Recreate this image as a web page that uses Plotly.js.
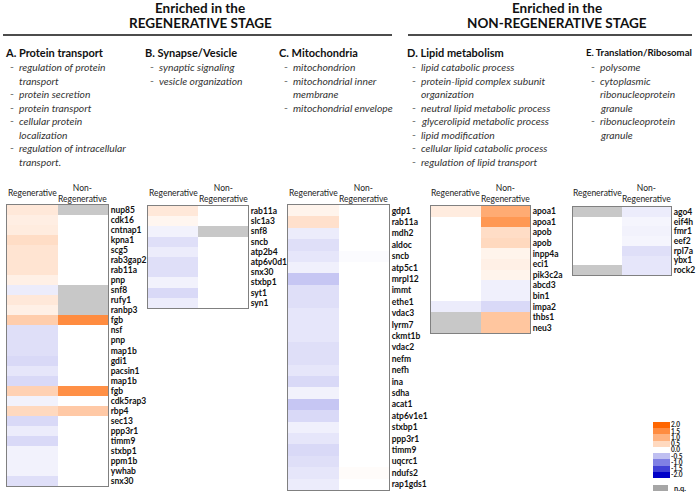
<!DOCTYPE html>
<html><head><meta charset="utf-8">
<script src="https://cdn.plot.ly/plotly-3.0.1.min.js"></script>
<style>html,body{margin:0;padding:0;background:#fff}</style>
</head><body><div id="chart" style="width:696px;height:496px"></div>
<script>
// ---------- data (null = n.q.) ----------
const colLabels = ['Regenerative', 'Non-<br>Regenerative'];

const genesA = ['nup85','cdk16','cntnap1','kpna1','scg5','rab3gap2','rab11a','pnp','snf8','rufy1','ranbp3','fgb','nsf','pnp','map1b','gdi1','pacsin1','map1b','fgb','cdk5rap3','rbp4','sec13','ppp3r1','timm9','stxbp1','ppm1b','ywhab','snx30'];
const regA = [0.3,0.22,0.25,0.45,0.35,0.35,0.35,0.2,-0.15,0.3,0.2,0.65,-0.25,-0.25,-0.25,-0.3,-0.2,-0.3,0.6,-0.1,0.5,-0.3,-0.15,-0.3,-0.1,-0.1,-0.1,-0.25];
const nonA = [null,0,0,0,0,0,0,0,null,null,null,1.5,0,0,0,0,0,0,1.45,0,0.7,0,0,0,0,0,0,0];

const genesB = ['rab11a','slc1a3','snf8','sncb','atp2b4','atp6v0d1','snx30','stxbp1','syt1','syn1'];
const regB = [0.3,0.12,-0.1,-0.25,-0.15,-0.25,-0.25,-0.1,-0.3,-0.15];
const nonB = [0,0,null,0,0,0,0,0,0,0];

const genesC = ['gdp1','rab11a','mdh2','aldoc','sncb','atp5c1','mrpl12','immt','ethe1','vdac3','lyrm7','ckmt1b','vdac2','nefm','nefh','ina','sdha','acat1','atp6v1e1','stxbp1','ppp3r1','timm9','uqcrc1','ndufs2','rap1gds1'];
const regC = [0.15,0.4,-0.15,-0.25,-0.2,-0.12,-0.45,-0.25,-0.25,-0.2,-0.2,-0.2,-0.25,-0.25,-0.2,-0.3,-0.1,-0.45,-0.3,-0.12,-0.2,-0.3,-0.25,-0.2,-0.15];
const nonC = [0,0,0,0,-0.03,0,0,0,0,0,0,0,0,0,0,0,0,0,0,0,0,0,0,0.04,0];

const genesD = ['apoa1','apoa1','apob','apob','inpp4a','eci1','pik3c2a','abcd3','bin1','impa2','thbs1','neu3'];
const regD = [0.25,0,0,0,0,0,0,0,0,-0.15,null,null];
const nonD = [1.1,1.35,0.45,0.5,0.15,0.2,0.15,-0.12,-0.12,-0.3,0.75,0.75];

const genesE = ['ago4','eif4h','fmr1','eef2','rpl7a','ybx1','rock2'];
const regE = [null,0,0,0,0,0,null];
const nonE = [-0.15,-0.08,-0.1,-0.08,-0.25,-0.2,-0.2];

const legendVals = [2,1.5,1,0.5,0,-0.5,-1,-1.5,-2];
const legendText = ['2.0','1.5','1.0','0.5','0.0','-0.5','-1.0','-1.5','-2.0'];

const headLeft = ['Enriched in the','REGENERATIVE STAGE'];
const headRight = ['Enriched in the','NON-REGENERATIVE STAGE'];

const sections = [
  {title:'A. Protein transport', x:3, size:11, items:[['regulation of protein',1],['transport',0],['protein secretion',1],['protein transport',1],['cellular protein',1],['localization',0],['regulation of intracellular',1],['transport.',0]]},
  {title:'B. Synapse/Vesicle', x:143, size:11, items:[['synaptic signaling',1],['vesicle organization',1]]},
  {title:'C. Mitochondria', x:277, size:11, items:[['mitochondrion',1],['mitochondrial inner',1],['membrane',0],['mitochondrial envelope',1]]},
  {title:'D. Lipid metabolism', x:405, size:11, items:[['lipid catabolic process',1],['protein-lipid complex subunit',1],['organization',0],['neutral lipid metabolic process',1],['glycerolipid metabolic process',1],['lipid modification',1],['cellular lipid catabolic process',1],['regulation of lipid transport',1]]},
  {title:'E. Translation/Ribosomal', x:584, size:9.6, items:[['polysome',1],['cytoplasmic',1],['ribonucleoprotein',0],['granule',0],['ribonucleoprotein',1],['granule',0]]}
];

// ---------- layout geometry (pixels) ----------
const W = 696, H = 496;
const panels = [
  {genes:genesA, reg:regA, non:nonA, x0:7,   x1:108, y0:205, y1:486},
  {genes:genesB, reg:regB, non:nonB, x0:148, x1:248, y0:206, y1:308},
  {genes:genesC, reg:regC, non:nonC, x0:288, x1:389, y0:205, y1:490},
  {genes:genesD, reg:regD, non:nonD, x0:431, x1:530, y0:206, y1:333},
  {genes:genesE, reg:regE, non:nonE, x0:573, x1:671, y0:207, y1:275}
];
const px = v => v / W;
const py = v => 1 - v / H;

const FONT = 'Lato, "Open Sans", sans-serif';
const colorscale = [[0,'#0000c8'],[0.5,'#ffffff'],[1,'#ff6600']];

const traces = [];
const layout = {
  width: W, height: H, autosize: false,
  margin: {l:0, r:0, t:0, b:0, pad:0},
  paper_bgcolor: '#fff', plot_bgcolor: '#fff',
  showlegend: false,
  font: {family: FONT, color: '#222'},
  annotations: [], shapes: []
};

panels.forEach((p, i) => {
  const n = p.genes.length;
  const sfx = i === 0 ? '' : String(i + 1);
  const idx = p.genes.map((g, k) => k);
  const z = p.genes.map((g, k) => [p.reg[k], p.non[k]]);
  const zq = p.genes.map((g, k) => [p.reg[k] === null ? 1 : null, p.non[k] === null ? 1 : null]);
  traces.push({
    type: 'heatmap', x: [0, 1], y: idx, z: z,
    xaxis: 'x' + sfx, yaxis: 'y' + sfx,
    zmin: -2, zmax: 2, colorscale: colorscale,
    showscale: false, hoverinfo: 'skip'
  });
  traces.push({
    type: 'heatmap', x: [0, 1], y: idx, z: zq,
    xaxis: 'x' + sfx, yaxis: 'y' + sfx,
    zmin: 0, zmax: 1, colorscale: [[0,'#c8c8c8'],[1,'#c8c8c8']],
    showscale: false, hoverinfo: 'skip'
  });
  layout['xaxis' + sfx] = {
    domain: [px(p.x0), px(p.x1)], range: [-0.5, 1.5], anchor: 'y' + sfx,
    showticklabels: false, ticks: '', showgrid: false, zeroline: false,
    showline: true, mirror: true, linecolor: '#808080', linewidth: 1, fixedrange: true
  };
  layout['yaxis' + sfx] = {
    domain: [py(p.y1), py(p.y0)], range: [n - 0.5, -0.5], anchor: 'x' + sfx,
    side: 'right', tickmode: 'array', tickvals: idx, ticktext: p.genes,
    ticks: '', showgrid: false, zeroline: false,
    showline: true, mirror: true, linecolor: '#808080', linewidth: 1,
    tickfont: {size: 8.5, family: FONT, weight: 'bold', color: '#111'}, fixedrange: true
  };
  layout.annotations.push({
    xref: 'x' + sfx, yref: 'paper', x: 0, y: py(193), text: colLabels[0],
    showarrow: false, xanchor: 'center', yanchor: 'middle',
    font: {size: 8.5, family: FONT, color: '#222'}
  });
  layout.annotations.push({
    xref: 'x' + sfx, yref: 'paper', x: 1, y: py(193), text: colLabels[1],
    showarrow: false, xanchor: 'center', yanchor: 'middle',
    font: {size: 8.5, family: FONT, color: '#222'}
  });
});

// colour legend as a small heatmap of the scale steps
traces.push({
  type: 'heatmap', x: [0], y: legendVals.map((v, k) => k), z: legendVals.map(v => [v]),
  xaxis: 'x6', yaxis: 'y6', zmin: -2, zmax: 2, colorscale: colorscale,
  showscale: false, hoverinfo: 'skip'
});
layout.xaxis6 = {domain: [px(653), px(670)], range: [-0.5, 0.5], anchor: 'y6',
  showticklabels: false, ticks: '', showgrid: false, zeroline: false, showline: false, fixedrange: true};
layout.yaxis6 = {domain: [py(478), py(422)], range: [legendVals.length - 0.5, -0.5], anchor: 'x6',
  side: 'right', tickmode: 'array', tickvals: legendVals.map((v, k) => k), ticktext: legendText,
  ticks: '', showgrid: false, zeroline: false, showline: false, fixedrange: true,
  tickfont: {size: 6.5, family: FONT, weight: 'bold', color: '#222'}};

// big titles
[[headLeft, 200], [headRight, 557]].forEach(([lines, cx]) => {
  lines.forEach((t, k) => {
    layout.annotations.push({
      xref: 'paper', yref: 'paper', x: px(cx), y: py(8 + 15 * k), text: t,
      showarrow: false, xanchor: 'center', yanchor: 'middle',
      font: {size: 13.5, family: FONT, weight: 'bold', color: '#111'}
    });
  });
});
layout.shapes.push({type:'line', xref:'paper', yref:'paper', x0:px(3), x1:px(392), y0:py(35), y1:py(35), line:{color:'#111', width:1.5}});
layout.shapes.push({type:'line', xref:'paper', yref:'paper', x0:px(408), x1:px(692), y0:py(35), y1:py(35), line:{color:'#111', width:1.5}});

// section headings and bullet items
sections.forEach(s => {
  layout.annotations.push({
    xref: 'paper', yref: 'paper', x: px(s.x), y: py(52), text: s.title,
    showarrow: false, xanchor: 'left', yanchor: 'middle',
    font: {size: s.size, family: FONT, weight: 'bold', color: '#111'}
  });
  s.items.forEach(([t, dash], k) => {
    const yy = py(67 + 13.5 * k);
    if (dash) {
      layout.annotations.push({
        xref: 'paper', yref: 'paper', x: px(s.x + 5), y: yy, text: '-',
        showarrow: false, xanchor: 'left', yanchor: 'middle',
        font: {size: 10.5, family: FONT, color: '#777'}
      });
    }
    layout.annotations.push({
      xref: 'paper', yref: 'paper', x: px(s.x + 14), y: yy, text: '<i>' + t + '</i>',
      showarrow: false, xanchor: 'left', yanchor: 'middle',
      font: {size: 10.3, family: FONT, color: '#333'}
    });
  });
});

// n.q. legend
layout.shapes.push({type:'rect', xref:'paper', yref:'paper', x0:px(653), x1:px(668), y0:py(491), y1:py(485), fillcolor:'#a6a6a6', line:{width:0}});
layout.annotations.push({
  xref: 'paper', yref: 'paper', x: px(672), y: py(488), text: 'n.q.',
  showarrow: false, xanchor: 'left', yanchor: 'middle',
  font: {size: 7.5, family: FONT, weight: 'bold', color: '#222'}
});

Plotly.newPlot('chart', traces, layout, {staticPlot: true, displayModeBar: false});
</script></body></html>
